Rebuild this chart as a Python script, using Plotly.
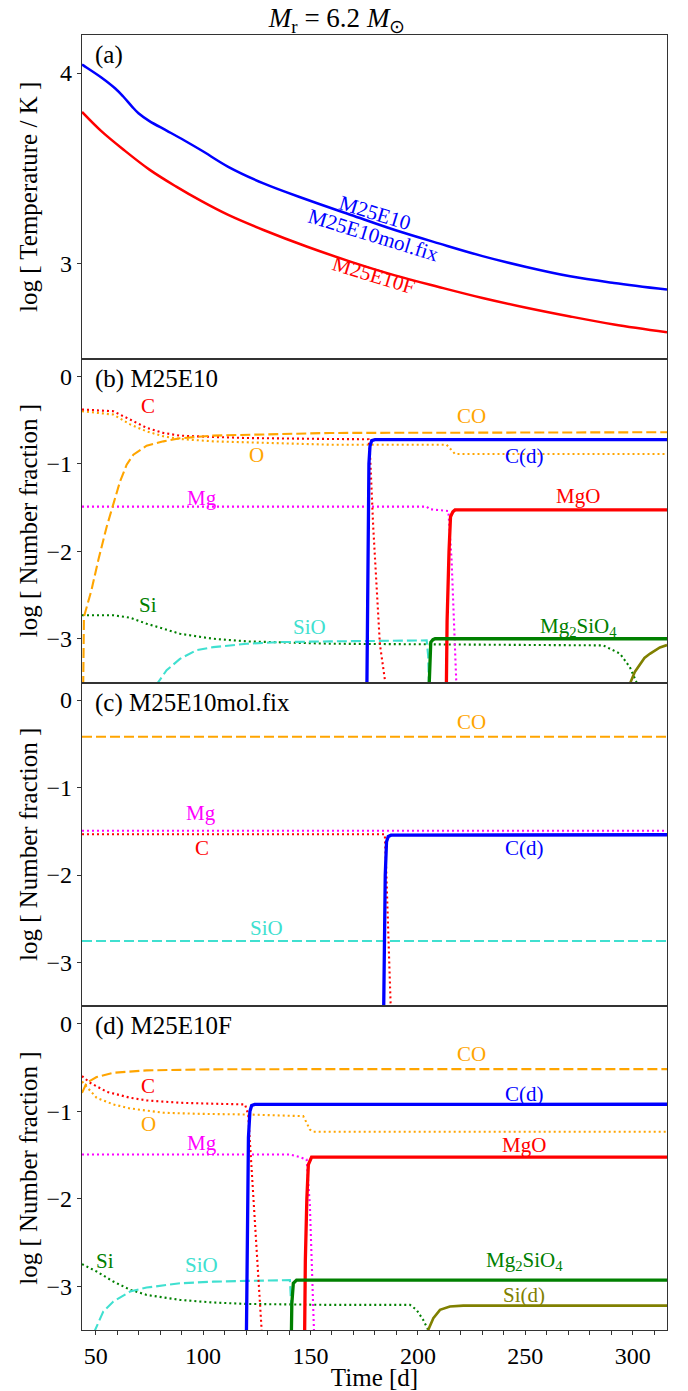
import plotly.graph_objects as go
from plotly.subplots import make_subplots

# ---------------- data ----------------
# Panel (a): temperature
T_blue_t = [43.6, 44.4, 52.6, 59.1, 62.8, 66.9, 69.9, 75.0, 83.2, 91.3, 99.5, 111.7, 128.1, 148.5,
            168.9, 189.3, 209.7, 230.1, 250.5, 270.9, 291.3, 316.0]
T_blue_y = [4.045, 4.039, 3.977, 3.919, 3.877, 3.824, 3.789, 3.748, 3.697, 3.646, 3.592, 3.508, 3.421,
            3.335, 3.255, 3.176, 3.106, 3.039, 2.982, 2.933, 2.898, 2.863]
T_red_t = [43.6, 52.6, 62.8, 75.0, 87.3, 99.5, 111.7, 128.1, 148.5, 168.9, 189.3, 209.7, 230.1,
           250.5, 270.9, 291.3, 316.0]
T_red_y = [3.796, 3.695, 3.599, 3.493, 3.405, 3.326, 3.255, 3.176, 3.088, 3.009, 2.938, 2.877, 2.819,
           2.768, 2.722, 2.680, 2.639]

# Panel (b): M25E10
b_CO_t = [44.1, 44.3, 44.5, 48.0, 51.2, 55.1, 58.2, 61.3, 64.4, 67.5, 73.7, 81.5, 89.2, 104.7, 159.0, 230.0, 316.0]
b_CO_y = [-3.7, -3.0, -2.75, -2.445, -2.10, -1.719, -1.451, -1.203, -1.011, -0.897, -0.794, -0.744, -0.709,
          -0.678, -0.648, -0.642, -0.640]
b_C_t = [43.6, 58.2, 66.0, 73.7, 81.5, 89.2, 104.7, 120.3, 159.0, 177.0, 177.7, 179.2, 182.3, 184.7, 186.0]
b_C_y = [-0.38, -0.40, -0.495, -0.59, -0.648, -0.679, -0.694, -0.706, -0.717, -0.72, -0.88, -1.72, -3.06,
         -3.48, -3.9]
b_O_t = [43.6, 58.2, 66.0, 73.7, 81.5, 89.2, 104.7, 120.3, 159.0, 213.4, 215.7, 217.3, 316.0]
b_O_y = [-0.40, -0.438, -0.55, -0.63, -0.686, -0.717, -0.744, -0.755, -0.782, -0.782, -0.84, -0.889, -0.889]
b_Mg_t = [43.6, 204.1, 205.6, 214.2, 215.7, 216.8, 217.7, 218.2]
b_Mg_y = [-1.49, -1.49, -1.52, -1.54, -2.1, -2.87, -3.48, -3.7]
b_Si_t = [43.6, 58.2, 66.0, 73.7, 81.5, 89.2, 104.7, 120.3, 159.0, 286.3, 294.1, 298.7, 301.8, 303.0]
b_Si_y = [-2.732, -2.732, -2.759, -2.828, -2.885, -2.943, -3.0, -3.03, -3.057, -3.076, -3.17, -3.325,
          -3.497, -3.6]
b_SiO_t = [78.0, 78.4, 83.0, 89.2, 97.0, 104.7, 120.3, 135.8, 159.0, 204.1, 204.8, 205.3]
b_SiO_y = [-3.7, -3.52, -3.36, -3.23, -3.13, -3.096, -3.057, -3.038, -3.03, -3.019, -3.2, -3.7]
b_Cd_t = [176.2, 176.6, 177.2, 177.7, 178.5, 180.0, 316.0]
b_Cd_y = [-3.7, -2.0, -1.0, -0.80, -0.735, -0.725, -0.725]
b_MgO_t = [213.2, 213.6, 214.5, 215.2, 216.3, 217.3, 316.0]
b_MgO_y = [-3.7, -2.8, -2.0, -1.605, -1.55, -1.528, -1.528]
b_Fo_t = [205.0, 205.4, 206.0, 207.0, 208.0, 316.0]
b_Fo_y = [-3.7, -3.3, -3.04, -3.01, -3.0, -3.0]
b_Sid_t = [298.0, 298.7, 301.0, 303.4, 305.5, 308.0, 310.5, 312.7, 316.0]
b_Sid_y = [-3.7, -3.516, -3.38, -3.287, -3.22, -3.172, -3.13, -3.1, -3.072]

# Panel (c): M25E10mol.fix
c_CO_t = [43.6, 316.0]
c_CO_y = [-0.42, -0.42]
c_Mg_t = [43.6, 316.0]
c_Mg_y = [-1.495, -1.495]
c_C_t = [43.6, 184.6, 185.2, 186.0, 186.7, 187.3, 188.0]
c_C_y = [-1.535, -1.535, -1.9, -2.5, -3.0, -3.5, -4.0]
c_SiO_t = [43.6, 316.0]
c_SiO_y = [-2.755, -2.755]
c_Cd_t = [184.0, 184.3, 184.8, 185.4, 186.2, 187.5, 316.0]
c_Cd_y = [-3.7, -2.8, -2.0, -1.62, -1.56, -1.545, -1.54]

# Panel (d): M25E10F
d_CO_t = [43.6, 45.8, 50.4, 58.2, 73.7, 104.7, 159.0, 316.0]
d_CO_y = [-0.79, -0.674, -0.609, -0.56, -0.533, -0.521, -0.518, -0.518]
d_C_t = [43.6, 47.3, 55.1, 66.0, 73.7, 89.2, 104.7, 119.5, 121.0, 122.6, 124.9, 127.2, 128.0]
d_C_y = [-0.598, -0.674, -0.777, -0.846, -0.876, -0.903, -0.914, -0.922, -1.037, -1.686, -2.64, -3.5, -3.8]
d_O_t = [43.6, 50.4, 58.2, 66.0, 81.5, 97.0, 120.3, 146.6, 148.2, 149.7, 151.3, 316.0]
d_O_y = [-0.66, -0.846, -0.922, -0.968, -1.017, -1.029, -1.037, -1.056, -1.132, -1.209, -1.235, -1.235]
d_Mg_t = [43.6, 140.4, 145.1, 148.2, 149.7, 150.5, 151.3, 152.0]
d_Mg_y = [-1.495, -1.495, -1.525, -1.552, -2.07, -2.83, -3.5, -3.8]
d_Si_t = [43.6, 50.4, 58.2, 66.0, 73.7, 89.2, 104.7, 120.3, 159.0, 196.3, 199.4, 202.5, 204.8, 206.0]
d_Si_y = [-2.747, -2.831, -2.946, -3.04, -3.099, -3.156, -3.186, -3.202, -3.213, -3.213, -3.27, -3.385,
          -3.5, -3.7]
d_SiO_t = [49.3, 49.7, 53.5, 58.2, 66.0, 73.7, 89.2, 104.7, 120.3, 140.4, 141.0, 141.5]
d_SiO_y = [-3.7, -3.5, -3.29, -3.175, -3.06, -3.015, -2.966, -2.947, -2.939, -2.93, -3.2, -3.7]
d_Cd_t = [120.1, 120.5, 121.1, 121.8, 122.6, 124.0, 316.0]
d_Cd_y = [-3.7, -2.5, -1.3, -1.0, -0.935, -0.922, -0.92]
d_MgO_t = [147.2, 147.6, 148.3, 149.0, 150.5, 316.0]
d_MgO_y = [-3.7, -2.7, -2.0, -1.61, -1.525, -1.525]
d_Fo_t = [141.0, 141.3, 142.0, 143.5, 316.0]
d_Fo_y = [-3.7, -3.2, -2.966, -2.93, -2.93]
d_Sid_t = [204.5, 204.8, 207.2, 210.3, 214.9, 221.1, 316.0]
d_Sid_y = [-3.7, -3.5, -3.366, -3.27, -3.232, -3.221, -3.221]

# Text labels
a_lab_text = ["M25E10", "M25E10mol.fix", "M25E10F"]
a_lab_x = [180.1, 179.1, 179.1]
a_lab_y = [3.264, 3.15, 2.938]
b_lab_text = ["C", "O", "CO", "C(d)", "Mg", "MgO", "Si", "SiO", "Mg<sub>2</sub>SiO<sub>4</sub>"]
b_lab_x = [74.5, 124.9, 225.0, 249.5, 99.3, 274.7, 74.5, 149.7, 274.7]
b_lab_y = [-0.342, -0.897, -0.457, -0.916, -1.394, -1.367, -2.617, -2.866, -2.866]
c_lab_text = ["CO", "Mg", "C", "C(d)", "SiO"]
c_lab_x = [225.0, 99.1, 99.5, 249.5, 129.5]
c_lab_y = [-0.251, -1.294, -1.694, -1.694, -2.6]
d_lab_text = ["CO", "C", "C(d)", "O", "Mg", "MgO", "Si", "SiO", "Mg<sub>2</sub>SiO<sub>4</sub>", "Si(d)"]
d_lab_x = [225.0, 74.5, 249.5, 74.5, 99.3, 249.5, 54.3, 99.3, 249.5, 249.5]
d_lab_y = [-0.349, -0.712, -0.80, -1.151, -1.361, -1.38, -2.717, -2.755, -2.717, -3.10]
panel_titles = ["(a)", "(b) M25E10", "(c) M25E10mol.fix", "(d) M25E10F"]
x_ticks = [50, 100, 150, 200, 250, 300]
yT_ticks = [3, 4]
yN_ticks = [0, -1, -2, -3]

# ---------------- styles ----------------
RED = "#ff0000"
ORANGE = "#ffa500"
BLUE = "#0000ff"
MAG = "#ff00ff"
GREEN = "#008000"
TURQ = "#40e0d0"
OLIVE = "#808000"
DOT = "2px,3px"
DASH = "10px,4px"
FONT = "Liberation Serif"
THIN = 2.1
THICK = 3.3

fig = make_subplots(rows=4, cols=1, shared_xaxes=True, vertical_spacing=0)


def line(row, t, y, color, dash="solid", width=THIN, shape="linear"):
    fig.add_trace(go.Scatter(x=t, y=y, mode="lines",
                             line=dict(color=color, dash=dash, width=width, shape=shape),
                             showlegend=False, hoverinfo="skip"), row=row, col=1)


# (a)
line(1, T_red_t, T_red_y, RED, width=2.5, shape="spline")
line(1, T_blue_t, T_blue_y, BLUE, width=2.5, shape="spline")

# (b)
line(2, b_Si_t, b_Si_y, GREEN, DOT)
line(2, b_SiO_t, b_SiO_y, TURQ, DASH)
line(2, b_Mg_t, b_Mg_y, MAG, DOT)
line(2, b_O_t, b_O_y, ORANGE, DOT)
line(2, b_C_t, b_C_y, RED, DOT)
line(2, b_CO_t, b_CO_y, ORANGE, DASH)
line(2, b_Cd_t, b_Cd_y, BLUE, width=THICK)
line(2, b_MgO_t, b_MgO_y, RED, width=THICK)
line(2, b_Fo_t, b_Fo_y, GREEN, width=THICK)
line(2, b_Sid_t, b_Sid_y, OLIVE, width=2.6)

# (c)
line(3, c_CO_t, c_CO_y, ORANGE, DASH)
line(3, c_SiO_t, c_SiO_y, TURQ, DASH)
line(3, c_Mg_t, c_Mg_y, MAG, DOT)
line(3, c_C_t, c_C_y, RED, DOT)
line(3, c_Cd_t, c_Cd_y, BLUE, width=THICK)

# (d)
line(4, d_Si_t, d_Si_y, GREEN, DOT)
line(4, d_SiO_t, d_SiO_y, TURQ, DASH)
line(4, d_Mg_t, d_Mg_y, MAG, DOT)
line(4, d_O_t, d_O_y, ORANGE, DOT)
line(4, d_C_t, d_C_y, RED, DOT)
line(4, d_CO_t, d_CO_y, ORANGE, DASH)
line(4, d_Cd_t, d_Cd_y, BLUE, width=THICK)
line(4, d_MgO_t, d_MgO_y, RED, width=THICK)
line(4, d_Fo_t, d_Fo_y, GREEN, width=THICK)
line(4, d_Sid_t, d_Sid_y, OLIVE, width=2.6)

# labels
col_map = {"C": RED, "O": ORANGE, "CO": ORANGE, "C(d)": BLUE, "Mg": MAG, "MgO": RED,
           "Si": GREEN, "SiO": TURQ, "Mg<sub>2</sub>SiO<sub>4</sub>": GREEN, "Si(d)": OLIVE}
a_cols = [BLUE, BLUE, RED]
for txt, x, y, c in zip(a_lab_text, a_lab_x, a_lab_y, a_cols):
    fig.add_annotation(x=x, y=y, xref="x", yref="y", text=txt, showarrow=False, textangle=17,
                       font=dict(family=FONT, size=21, color=c))
for row, (tx, xs, ys) in zip([2, 3, 4], [(b_lab_text, b_lab_x, b_lab_y),
                                          (c_lab_text, c_lab_x, c_lab_y),
                                          (d_lab_text, d_lab_x, d_lab_y)]):
    xr = f"x{row}"
    yr = f"y{row}"
    for txt, x, y in zip(tx, xs, ys):
        fig.add_annotation(x=x, y=y, xref=xr, yref=yr, text=txt, showarrow=False,
                           font=dict(family=FONT, size=21, color=col_map[txt]))

for i, ptitle in enumerate(panel_titles):
    row = i + 1
    xr = "x domain" if row == 1 else f"x{row} domain"
    yr = "y domain" if row == 1 else f"y{row} domain"
    fig.add_annotation(x=0.019, y=0.938, xref=xr, yref=yr, xanchor="left", yanchor="middle",
                       text=ptitle, showarrow=False, font=dict(family=FONT, size=25, color="black"))

axis_common = dict(showline=True, linecolor="#333333", linewidth=1.2, mirror=True,
                   showgrid=False, zeroline=False)
for row in range(1, 5):
    fig.update_xaxes(range=[43.6, 316.0], tickvals=x_ticks, row=row, col=1, **axis_common)
fig.update_xaxes(ticks="outside", ticklen=4, tickcolor="#333333", showticklabels=True,
                 minor=dict(dtick=10, ticks="outside", ticklen=4, tickcolor="#333333"),
                 tickfont=dict(family=FONT, size=24, color="black"),
                 title=dict(text="Time [d]", font=dict(family=FONT, size=25, color="black"), standoff=6),
                 row=4, col=1)
fig.update_yaxes(range=[2.5, 4.2], tickvals=yT_ticks, ticks="outside", ticklen=4, tickcolor="#333333",
                 tickfont=dict(family=FONT, size=24, color="black"),
                 title=dict(text="log [ Temperature / K ]", font=dict(family=FONT, size=25, color="black"),
                            standoff=15),
                 row=1, col=1, **axis_common)
for row in [2, 3, 4]:
    fig.update_yaxes(range=[-3.5, 0.2], tickvals=yN_ticks, ticks="outside", ticklen=4, tickcolor="#333333",
                     tickfont=dict(family=FONT, size=24, color="black"),
                     title=dict(text="log [ Number fraction ]", font=dict(family=FONT, size=25, color="black"),
                                standoff=1),
                     row=row, col=1, **axis_common)

fig.update_layout(
    width=688, height=1391,
    margin=dict(l=82, r=21, t=35, b=61, autoexpand=False),
    paper_bgcolor="white", plot_bgcolor="white",
    title=dict(text="<i>M</i><sub>r</sub> = 6.2 <i>M</i><sub>⊙</sub>", x=0.49, xref="container",
               y=1 - 18 / 1391, yref="container", yanchor="middle", xanchor="center",
               font=dict(family=FONT, size=27, color="black")),
    font=dict(family=FONT, color="black"),
)

fig.write_html("out.html", config={"displayModeBar": False},
               post_script="document.body.style.margin='0';document.body.style.padding='0';")
